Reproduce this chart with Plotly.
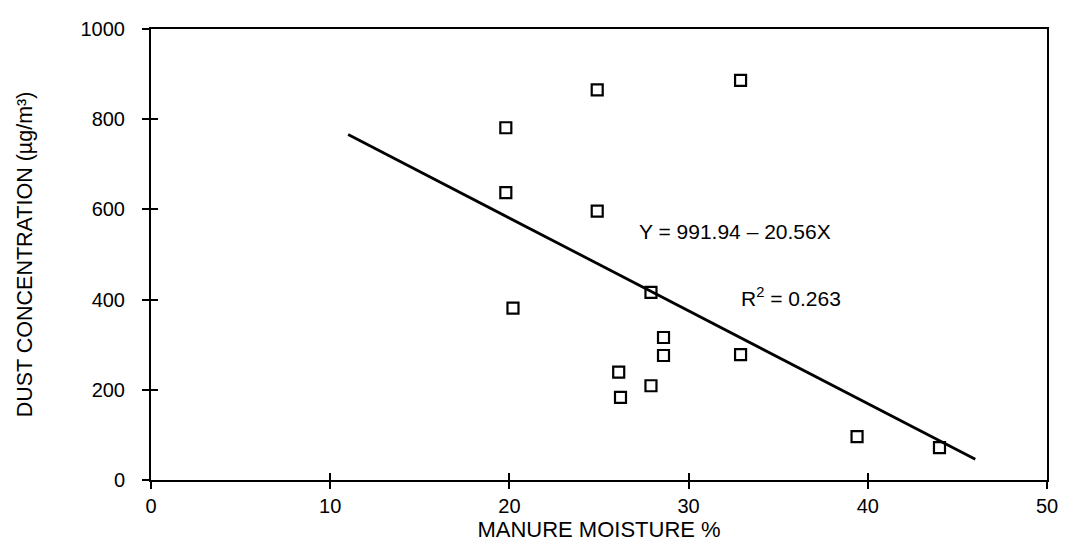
import plotly.graph_objects as go

# Data
moisture = [24.9, 32.9, 19.8, 19.8, 24.9, 27.9, 20.2, 28.6, 28.6, 26.1, 27.9, 26.2, 39.4, 44.0, 32.9]
dust = [865, 886, 781, 637, 596, 416, 381, 316, 276, 239, 209, 183, 96, 72, 278]

fit_x = [11.0, 46.0]
fit_y = [766, 46]

x_ticks = [0, 10, 20, 30, 40, 50]
y_ticks = [0, 200, 400, 600, 800, 1000]

FONT = "Liberation Sans, Arial, Helvetica, sans-serif"

fig = go.Figure()
fig.add_trace(go.Scatter(
    x=fit_x, y=fit_y, mode="lines",
    line=dict(color="black", width=2.8),
    showlegend=False, hoverinfo="skip"))
fig.add_trace(go.Scatter(
    x=moisture, y=dust, mode="markers",
    marker=dict(symbol="square-open", size=11, color="black", line=dict(width=2.2)),
    showlegend=False))

axis_common = dict(showgrid=False, zeroline=False, linecolor="black", linewidth=2,
                   tickcolor="black", tickwidth=1.5, ticklen=7,
                   tickfont=dict(family=FONT, size=20, color="black"))

fig.update_layout(
    width=1068, height=551,
    margin=dict(l=151, r=10, t=29, b=71),
    paper_bgcolor="white", plot_bgcolor="white",
    font=dict(family=FONT, color="black"),
    xaxis=dict(range=[0, 50], tickvals=x_ticks, ticks="outside", mirror=True,
               title=dict(text="MANURE MOISTURE %", font=dict(family=FONT, size=22), standoff=0),
               **axis_common),
    yaxis=dict(range=[0, 1000], tickvals=y_ticks, ticks="outside", mirror=True,
               ticklabelstandoff=13,
               title=dict(text="DUST CONCENTRATION (µg/m³)", font=dict(family=FONT, size=21.5), standoff=42),
               **axis_common),
    xaxis2=dict(overlaying="x", matches="x", range=[0, 50], tickvals=x_ticks, ticks="inside",
                showticklabels=False, showgrid=False, zeroline=False, showline=False,
                tickcolor="black", tickwidth=1.5, ticklen=7, side="bottom", anchor="y"),
    yaxis2=dict(overlaying="y", matches="y", range=[0, 1000], tickvals=y_ticks, ticks="inside",
                showticklabels=False, showgrid=False, zeroline=False, showline=False,
                tickcolor="black", tickwidth=1.5, ticklen=7, side="left", anchor="x"),
)

# invisible trace to activate the secondary axes (inside tick halves)
fig.add_trace(go.Scatter(x=[None], y=[None], xaxis="x2", yaxis="y2", showlegend=False,
                         hoverinfo="skip"))

fig.add_annotation(x=27.1, y=550, xref="x", yref="y", text="Y = 991.94 – 20.56X",
                   showarrow=False, xanchor="left", yanchor="middle",
                   font=dict(family=FONT, size=21, color="black"))
fig.add_annotation(x=32.8, y=406, xref="x", yref="y", text="R<sup>2</sup> = 0.263",
                   showarrow=False, xanchor="left", yanchor="middle",
                   font=dict(family=FONT, size=21, color="black"))

fig.write_html("out.html", config={"displayModeBar": False},
               post_script="document.body.style.margin='0px';")
